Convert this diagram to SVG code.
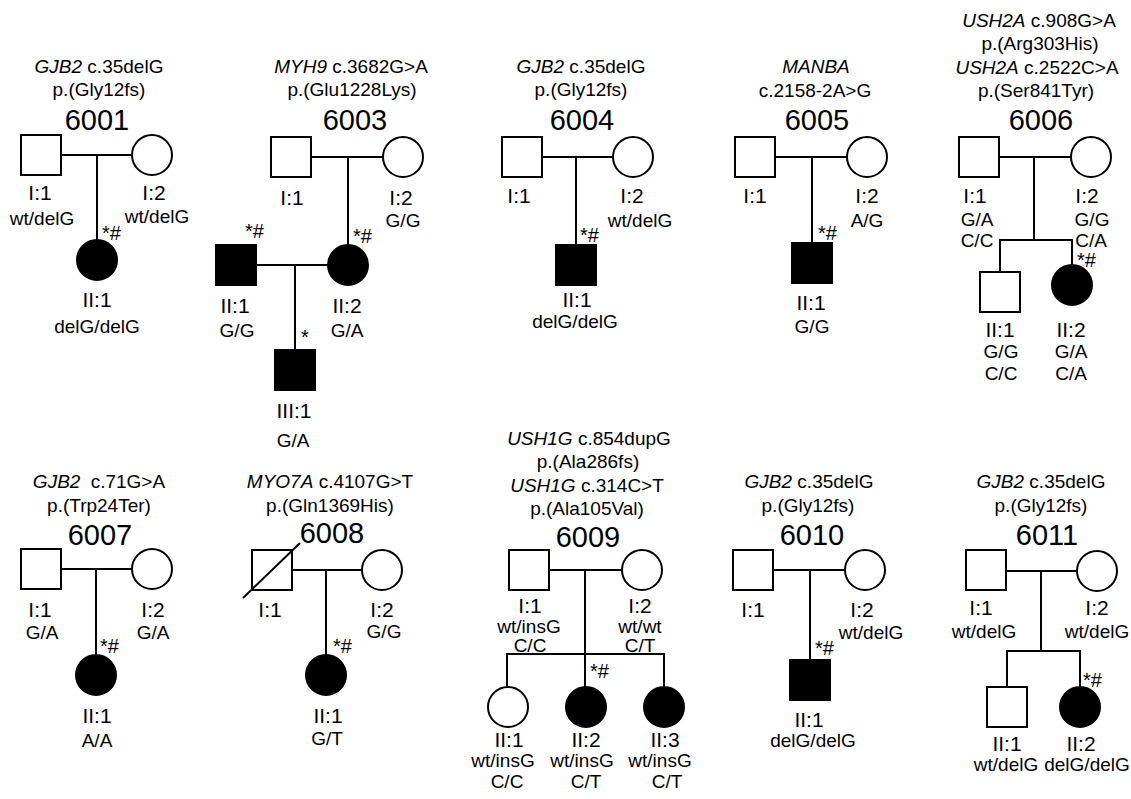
<svg xmlns="http://www.w3.org/2000/svg" width="1131" height="799" viewBox="0 0 1131 799">
<style>
text{font-family:"Liberation Sans",Arial,Helvetica,sans-serif;fill:#000;text-anchor:middle}
.t{font-size:19px}
.n{font-size:29px}
.l{font-size:21px}
.g{font-size:19px}
.m{font-size:20px;text-anchor:start}
.i{font-style:italic}
.o{fill:#fff;stroke:#000;stroke-width:2}
.f{fill:#000;stroke:#000;stroke-width:2}
.c line,.c path{stroke:#000;stroke-width:2;fill:none}
</style>
<rect width="1131" height="799" fill="#fff"/>

<g id="connectors" class="c">
<!-- 6001 -->
<line x1="61" y1="155" x2="132" y2="155"/>
<line x1="97" y1="155" x2="97" y2="240"/>
<!-- 6003 -->
<line x1="311" y1="157" x2="383" y2="157"/>
<line x1="348" y1="157" x2="348" y2="245"/>
<line x1="256" y1="265" x2="328" y2="265"/>
<line x1="295" y1="265" x2="295" y2="350"/>
<!-- 6004 -->
<line x1="542" y1="157" x2="613" y2="157"/>
<line x1="576" y1="157" x2="576" y2="245"/>
<!-- 6005 -->
<line x1="775" y1="157" x2="847" y2="157"/>
<line x1="812" y1="157" x2="812" y2="243"/>
<!-- 6006 -->
<line x1="999" y1="157" x2="1071" y2="157"/>
<line x1="1034" y1="157" x2="1034" y2="240"/>
<path d="M1000 272 V240 H1072 V265"/>
<!-- 6007 -->
<line x1="61" y1="569" x2="132" y2="569"/>
<line x1="96" y1="569" x2="96" y2="655"/>
<!-- 6008 -->
<line x1="292" y1="570" x2="362" y2="570"/>
<line x1="326" y1="570" x2="326" y2="655"/>
<!-- 6009 -->
<line x1="549" y1="570" x2="622" y2="570"/>
<line x1="585" y1="570" x2="585" y2="687"/>
<path d="M507 687 V654 H664 V687"/>
<!-- 6010 -->
<line x1="773" y1="570" x2="845" y2="570"/>
<line x1="810" y1="570" x2="810" y2="660"/>
<!-- 6011 -->
<line x1="1006" y1="571" x2="1077" y2="571"/>
<line x1="1041" y1="571" x2="1041" y2="651"/>
<path d="M1007 687 V651 H1080 V687"/>
</g>

<!-- ========== 6001 ========== -->
<g id="f6001-title">
<text class="t" x="99" y="73"><tspan class="i">GJB2</tspan> c.35delG</text>
<text class="t" x="99" y="96">p.(Gly12fs)</text>
<text class="n" x="97" y="130">6001</text>
</g>
<g id="f6001-I1"><rect class="o" x="21" y="135" width="40" height="40"/><text class="l" x="40" y="200">I:1</text><text class="g" x="42" y="225">wt/delG</text></g>
<g id="f6001-I2"><circle class="o" cx="152" cy="155" r="20"/><text class="l" x="154" y="200">I:2</text><text class="g" x="157" y="223">wt/delG</text></g>
<g id="f6001-II1"><circle class="f" cx="97" cy="260" r="20"/><text class="m" x="102" y="240">*#</text><text class="l" x="97" y="307">II:1</text><text class="g" x="97" y="333">delG/delG</text></g>

<!-- ========== 6003 ========== -->
<g id="f6003-title">
<text class="t" x="351" y="73"><tspan class="i">MYH9</tspan> c.3682G&gt;A</text>
<text class="t" x="352" y="96">p.(Glu1228Lys)</text>
<text class="n" x="355" y="130">6003</text>
</g>
<g id="f6003-I1"><rect class="o" x="271" y="137" width="40" height="40"/><text class="l" x="292" y="205">I:1</text></g>
<g id="f6003-I2"><circle class="o" cx="403" cy="157" r="20"/><text class="l" x="401" y="205">I:2</text><text class="g" x="403" y="227">G/G</text></g>
<g id="f6003-II1"><rect class="f" x="216" y="245" width="40" height="40"/><text class="m" x="245" y="238">*#</text><text class="l" x="235" y="313">II:1</text><text class="g" x="237" y="337">G/G</text></g>
<g id="f6003-II2"><circle class="f" cx="348" cy="265" r="20"/><text class="m" x="353" y="243">*#</text><text class="l" x="347" y="313">II:2</text><text class="g" x="347" y="337">G/A</text></g>
<g id="f6003-III1"><rect class="f" x="275" y="350" width="40" height="40"/><text class="m" x="301" y="344">*</text><text class="l" x="294" y="418">III:1</text><text class="g" x="293" y="447">G/A</text></g>

<!-- ========== 6004 ========== -->
<g id="f6004-title">
<text class="t" x="581" y="73"><tspan class="i">GJB2</tspan> c.35delG</text>
<text class="t" x="581" y="96">p.(Gly12fs)</text>
<text class="n" x="582" y="130">6004</text>
</g>
<g id="f6004-I1"><rect class="o" x="502" y="137" width="40" height="40"/><text class="l" x="519" y="203">I:1</text></g>
<g id="f6004-I2"><circle class="o" cx="633" cy="157" r="20"/><text class="l" x="632" y="203">I:2</text><text class="g" x="640" y="227">wt/delG</text></g>
<g id="f6004-II1"><rect class="f" x="556" y="245" width="40" height="40"/><text class="m" x="580" y="242">*#</text><text class="l" x="577" y="307">II:1</text><text class="g" x="575" y="328">delG/delG</text></g>

<!-- ========== 6005 ========== -->
<g id="f6005-title">
<text class="t i" x="816" y="73">MANBA</text>
<text class="t" x="815" y="97">c.2158-2A&gt;G</text>
<text class="n" x="817" y="130">6005</text>
</g>
<g id="f6005-I1"><rect class="o" x="735" y="137" width="40" height="40"/><text class="l" x="755" y="203">I:1</text></g>
<g id="f6005-I2"><circle class="o" cx="867" cy="157" r="20"/><text class="l" x="867" y="203">I:2</text><text class="g" x="867" y="227">A/G</text></g>
<g id="f6005-II1"><rect class="f" x="792" y="243" width="40" height="40"/><text class="m" x="818" y="240">*#</text><text class="l" x="811" y="310">II:1</text><text class="g" x="812" y="333">G/G</text></g>

<!-- ========== 6006 ========== -->
<g id="f6006-title">
<text class="t" x="1039" y="27"><tspan class="i">USH2A</tspan> c.908G&gt;A</text>
<text class="t" x="1040" y="50">p.(Arg303His)</text>
<text class="t" x="1037" y="74"><tspan class="i">USH2A</tspan> c.2522C&gt;A</text>
<text class="t" x="1036" y="97">p.(Ser841Tyr)</text>
<text class="n" x="1041" y="130">6006</text>
</g>
<g id="f6006-I1"><rect class="o" x="959" y="137" width="40" height="40"/><text class="l" x="975" y="203">I:1</text><text class="g" x="977" y="226">G/A</text><text class="g" x="977" y="247">C/C</text></g>
<g id="f6006-I2"><circle class="o" cx="1091" cy="157" r="20"/><text class="l" x="1087" y="203">I:2</text><text class="g" x="1092" y="226">G/G</text><text class="g" x="1091" y="247">C/A</text></g>
<g id="f6006-II1"><rect class="o" x="980" y="272" width="40" height="40"/><text class="l" x="1000" y="337">II:1</text><text class="g" x="1001" y="358">G/G</text><text class="g" x="1001" y="380">C/C</text></g>
<g id="f6006-II2"><circle class="f" cx="1072" cy="285" r="20"/><text class="m" x="1077" y="267">*#</text><text class="l" x="1071" y="337">II:2</text><text class="g" x="1071" y="358">G/A</text><text class="g" x="1071" y="380">C/A</text></g>

<!-- ========== 6007 ========== -->
<g id="f6007-title">
<text class="t" x="99" y="488"><tspan class="i">GJB2</tspan><tspan dx="5"> c.71G&gt;A</tspan></text>
<text class="t" x="99" y="512">p.(Trp24Ter)</text>
<text class="n" x="100" y="545">6007</text>
</g>
<g id="f6007-I1"><rect class="o" x="21" y="549" width="40" height="40"/><text class="l" x="40" y="617">I:1</text><text class="g" x="42" y="639">G/A</text></g>
<g id="f6007-I2"><circle class="o" cx="152" cy="569" r="20"/><text class="l" x="153" y="617">I:2</text><text class="g" x="153" y="639">G/A</text></g>
<g id="f6007-II1"><circle class="f" cx="96" cy="675" r="20"/><text class="m" x="100" y="653">*#</text><text class="l" x="97" y="723">II:1</text><text class="g" x="97" y="747">A/A</text></g>

<!-- ========== 6008 ========== -->
<g id="f6008-title">
<text class="t" x="330" y="488"><tspan class="i">MYO7A</tspan> c.4107G&gt;T</text>
<text class="t" x="330" y="512">p.(Gln1369His)</text>
<text class="n" x="332" y="543">6008</text>
</g>
<g id="f6008-I1"><rect class="o" x="252" y="550" width="40" height="40"/><line x1="243" y1="598" x2="300" y2="543" stroke="#000" stroke-width="2"/><text class="l" x="270" y="617">I:1</text></g>
<g id="f6008-I2"><circle class="o" cx="382" cy="570" r="20"/><text class="l" x="382" y="617">I:2</text><text class="g" x="384" y="638">G/G</text></g>
<g id="f6008-II1"><circle class="f" cx="326" cy="675" r="20"/><text class="m" x="333" y="653">*#</text><text class="l" x="328" y="723">II:1</text><text class="g" x="327" y="745">G/T</text></g>

<!-- ========== 6009 ========== -->
<g id="f6009-title">
<text class="t" x="589" y="445"><tspan class="i">USH1G</tspan> c.854dupG</text>
<text class="t" x="588" y="468">p.(Ala286fs)</text>
<text class="t" x="587" y="492"><tspan class="i">USH1G</tspan> c.314C&gt;T</text>
<text class="t" x="587" y="515">p.(Ala105Val)</text>
<text class="n" x="588" y="547">6009</text>
</g>
<g id="f6009-I1"><rect class="o" x="509" y="550" width="40" height="40"/><text class="l" x="530" y="613">I:1</text><text class="g" x="529" y="633">wt/insG</text><text class="g" x="530" y="652">C/C</text></g>
<g id="f6009-I2"><circle class="o" cx="642" cy="570" r="20"/><text class="l" x="640" y="613">I:2</text><text class="g" x="640" y="633">wt/wt</text><text class="g" x="640" y="652">C/T</text></g>
<g id="f6009-II1"><circle class="o" cx="508" cy="707" r="20"/><text class="l" x="509" y="747">II:1</text><text class="g" x="503" y="767">wt/insG</text><text class="g" x="507" y="788">C/C</text></g>
<g id="f6009-II2"><circle class="f" cx="586" cy="707" r="20"/><text class="m" x="590" y="678">*#</text><text class="l" x="586" y="747">II:2</text><text class="g" x="582" y="767">wt/insG</text><text class="g" x="586" y="788">C/T</text></g>
<g id="f6009-II3"><circle class="f" cx="664" cy="707" r="20"/><text class="l" x="665" y="747">II:3</text><text class="g" x="660" y="767">wt/insG</text><text class="g" x="667" y="788">C/T</text></g>

<!-- ========== 6010 ========== -->
<g id="f6010-title">
<text class="t" x="809" y="488"><tspan class="i">GJB2</tspan> c.35delG</text>
<text class="t" x="808" y="512">p.(Gly12fs)</text>
<text class="n" x="812" y="545">6010</text>
</g>
<g id="f6010-I1"><rect class="o" x="733" y="550" width="40" height="40"/><text class="l" x="753" y="617">I:1</text></g>
<g id="f6010-I2"><circle class="o" cx="865" cy="570" r="20"/><text class="l" x="862" y="617">I:2</text><text class="g" x="871" y="639">wt/delG</text></g>
<g id="f6010-II1"><rect class="f" x="790" y="660" width="40" height="40"/><text class="m" x="815" y="655">*#</text><text class="l" x="809" y="727">II:1</text><text class="g" x="813" y="747">delG/delG</text></g>

<!-- ========== 6011 ========== -->
<g id="f6011-title">
<text class="t" x="1041" y="488"><tspan class="i">GJB2</tspan> c.35delG</text>
<text class="t" x="1041" y="512">p.(Gly12fs)</text>
<text class="n" x="1047" y="545">6011</text>
</g>
<g id="f6011-I1"><rect class="o" x="966" y="550" width="40" height="40"/><text class="l" x="981" y="615">I:1</text><text class="g" x="984" y="638">wt/delG</text></g>
<g id="f6011-I2"><circle class="o" cx="1097" cy="571" r="20"/><text class="l" x="1097" y="615">I:2</text><text class="g" x="1097" y="638">wt/delG</text></g>
<g id="f6011-II1"><rect class="o" x="987" y="687" width="40" height="40"/><text class="l" x="1007" y="751">II:1</text><text class="g" x="1006" y="771">wt/delG</text></g>
<g id="f6011-II2"><circle class="f" cx="1080" cy="707" r="20"/><text class="m" x="1083" y="687">*#</text><text class="l" x="1081" y="751">II:2</text><text class="g" x="1087" y="771">delG/delG</text></g>
</svg>
